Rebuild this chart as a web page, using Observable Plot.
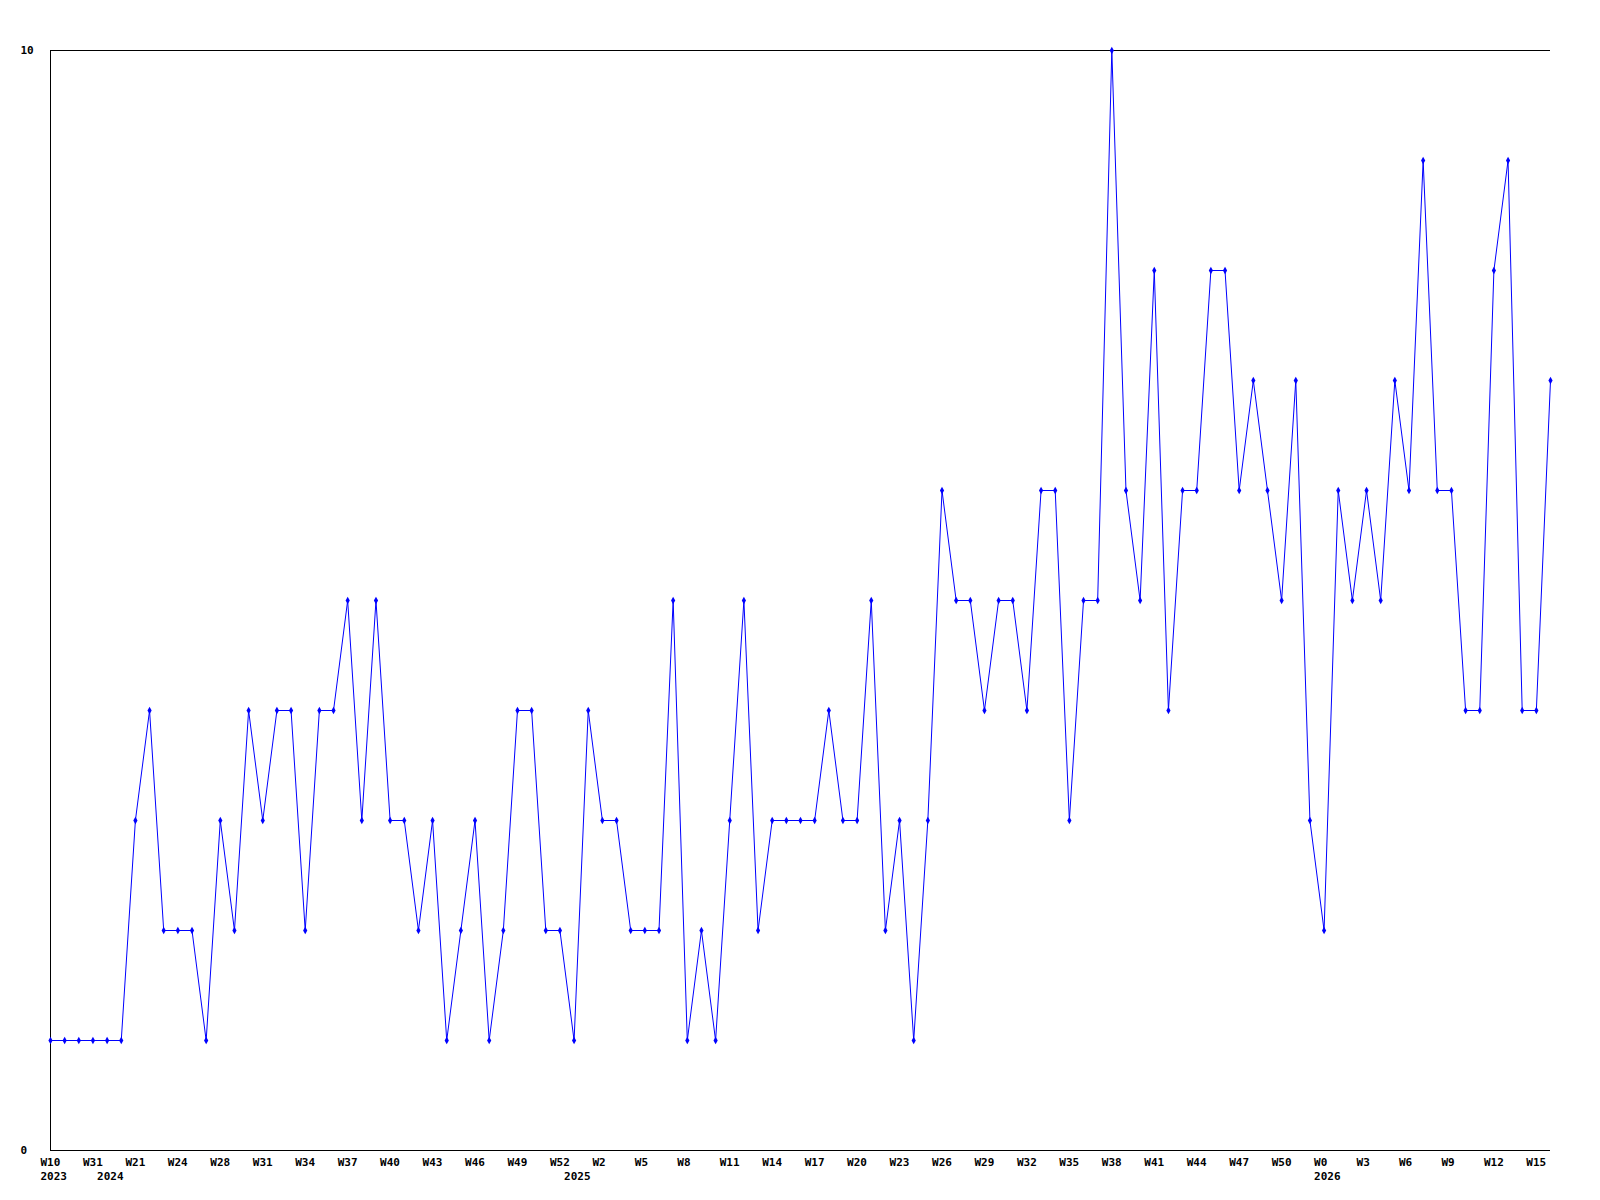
<!DOCTYPE html>
<html>
<head>
<meta charset="utf-8">
<script src="https://cdn.jsdelivr.net/npm/d3@7"></script>
<script src="https://cdn.jsdelivr.net/npm/@observablehq/plot@0.6"></script>
<style>
  html, body { margin: 0; padding: 0; background: #ffffff; }
  #chart { width: 1600px; height: 1200px; }
  svg { display: block; }
</style>
</head>
<body>
<div id="chart"></div>
<script>
// Weekly counts, one per evenly spaced point (index 0..106)
const values = [
  1, 1, 1, 1, 1, 1, 3, 4, 2, 2,
  2, 1, 3, 2, 4, 3, 4, 4, 2, 4,
  4, 5, 3, 5, 3, 3, 2, 3, 1, 2,
  3, 1, 2, 4, 4, 2, 2, 1, 4, 3,
  3, 2, 2, 2, 5, 1, 2, 1, 3, 5,
  2, 3, 3, 3, 3, 4, 3, 3, 5, 2,
  3, 1, 3, 6, 5, 5, 4, 5, 5, 4,
  6, 6, 3, 5, 5, 10, 6, 5, 8, 4,
  6, 6, 8, 8, 6, 7, 6, 5, 7, 3,
  2, 6, 5, 6, 5, 7, 6, 9, 6, 6,
  4, 4, 8, 9, 4, 4, 7
];

// Week tick labels, one on every third point
const weekLabels = [
  "W10", "W31", "W21", "W24", "W28", "W31", "W34", "W37", "W40", "W43",
  "W46", "W49", "W52", "W2", "W5", "W8", "W11", "W14", "W17", "W20",
  "W23", "W26", "W29", "W32", "W35", "W38", "W41", "W44", "W47", "W50",
  "W0", "W3", "W6", "W9", "W12", "W15"
];
const weekTickIndex = weekLabels.map((_, k) => k * 3);

// Year labels (second line) and the point index where each starts
const yearLabels = ["2023", "2024", "2025", "2026"];
const yearTickIndex = [0, 4, 37, 90];

// Y axis ticks
const yTicks = [0, 10];

const data = values.map((v, i) => ({i, v}));
const weekMap = new Map(weekTickIndex.map((p, k) => [p, weekLabels[k]]));
const yearMap = new Map(yearTickIndex.map((p, k) => [p, yearLabels[k]]));

const font = "DejaVu Sans Mono, monospace";

const chart = Plot.plot({
  width: 1600,
  height: 1200,
  marginLeft: 50,
  marginRight: 50,
  marginTop: 50,
  marginBottom: 50,
  style: {fontFamily: font, fontSize: "11px", fontWeight: "bold", background: "#ffffff", color: "#000"},
  x: {domain: [0, 106], axis: null},
  y: {domain: [0, 10], axis: null},
  marks: [
    Plot.axisX({ticks: weekTickIndex, tickFormat: d => weekMap.get(d), tickSize: 0, tickPadding: 8, textAnchor: "start", dx: -10, label: null, fontWeight: "bold", fill: "#000"}),
    Plot.axisX({ticks: yearTickIndex, tickFormat: d => yearMap.get(d), tickSize: 0, tickPadding: 22, textAnchor: "start", dx: -10, label: null, fontWeight: "bold", fill: "#000"}),
    Plot.axisY({ticks: yTicks, tickSize: 0, tickPadding: 30, textAnchor: "start", label: null, fontWeight: "bold", fill: "#000"}),
    Plot.ruleX([0], {stroke: "#000", strokeWidth: 1}),
    Plot.ruleY([0, 10], {stroke: "#000", strokeWidth: 1}),
    Plot.line(data, {x: "i", y: "v", stroke: "#0000ff", strokeWidth: 1}),
    Plot.dot(data, {x: "i", y: "v", symbol: "diamond", r: 2.2, fill: "#0000ff", stroke: "none"})
  ]
});

document.getElementById("chart").appendChild(chart);
</script>
</body>
</html>
